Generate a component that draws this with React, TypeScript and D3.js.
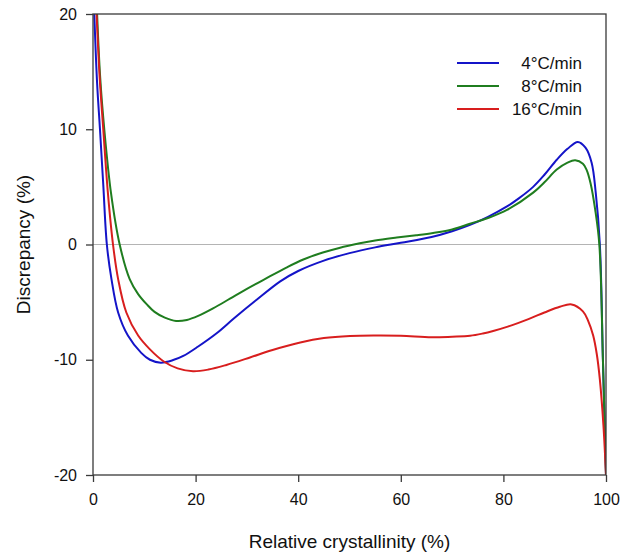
import { useEffect, useRef } from "react";
import * as d3 from "d3";

const width = 622;
const height = 555;

const margin = { top: 14, right: 16, bottom: 80, left: 93 };

// relative crystallinity (%) / discrepancy (%)
const blueX = [0.25, 0.8, 1.36, 2.0, 2.7, 3.6, 4.9, 6.8, 9.4, 11.1, 13.2, 15.5, 17.6, 20.5, 24.1, 27.5, 31.9, 36.5, 40, 45, 50, 55, 60, 66, 70, 73.5, 77, 80.7, 83, 85.8, 88, 90.4, 92.5, 94.5, 96, 97.2, 98, 98.8, 99.4, 100];
const blueY = [20, 14, 10, 5.2, 0, -3.0, -5.9, -7.9, -9.4, -10.0, -10.25, -10.05, -9.67, -8.85, -7.7, -6.4, -4.8, -3.2, -2.3, -1.4, -0.75, -0.25, 0.15, 0.65, 1.15, 1.7, 2.4, 3.3, 4.0, 5.0, 6.05, 7.35, 8.3, 8.9, 8.4, 7.1, 4.5, 0, -10, -20];

const greenX = [0.8, 1.4, 2.2, 3.5, 5.2, 7.15, 8.8, 10.5, 12.0, 14, 16.2, 18.3, 20.5, 23.4, 26.7, 30, 33.5, 37.7, 41, 44.8, 48, 52, 55, 59.2, 63, 66.3, 70, 73.5, 77, 80.7, 85.8, 88, 90.4, 92.5, 94, 95.5, 96.2, 97, 97.9, 98.7, 99.4, 100];
const greenY = [20, 14.5, 10, 4.5, 0, -3.0, -4.3, -5.2, -5.85, -6.35, -6.64, -6.55, -6.2, -5.55, -4.7, -3.85, -3.0, -2.0, -1.3, -0.7, -0.3, 0.1, 0.35, 0.6, 0.8, 1.0, 1.3, 1.8, 2.3, 3.0, 4.5, 5.4, 6.5, 7.1, 7.3, 7.0, 6.5, 5.3, 3.0, 0, -10, -20];

const redX = [0.7, 1.3, 2.0, 2.9, 3.9, 4.9, 6.5, 8.8, 11.1, 13.8, 16.5, 19.5, 22.5, 26, 30.6, 35, 40.4, 45, 50.1, 55, 60, 66, 70, 73.5, 76, 78, 81, 85, 88, 91, 93.3, 95.5, 96.5, 97.5, 98.2, 98.8, 99.5, 100];
const redY = [20, 14.5, 10, 4.5, 0, -3.0, -5.9, -7.9, -9.1, -10.15, -10.75, -11.0, -10.85, -10.45, -9.8, -9.15, -8.5, -8.12, -7.94, -7.9, -7.92, -8.05, -8.0, -7.92, -7.72, -7.5, -7.1, -6.45, -5.9, -5.4, -5.2, -5.8, -6.6, -7.9, -9.5, -11.7, -15.7, -20];

const seriesNames = ["4°C/min", "8°C/min", "16°C/min"];
const seriesColors = ["#1414c8", "#1f7d1f", "#d81e1e"];

const xTicks = [0, 20, 40, 60, 80, 100];
const yTicks = [-20, -10, 0, 10, 20];

const series = [
  { name: seriesNames[0], color: seriesColors[0], xs: blueX, ys: blueY },
  { name: seriesNames[1], color: seriesColors[1], xs: greenX, ys: greenY },
  { name: seriesNames[2], color: seriesColors[2], xs: redX, ys: redY },
];

export default function App() {
  const svgRef = useRef<SVGSVGElement | null>(null);

  useEffect(() => {
    if (!svgRef.current) return;
    const svg = d3.select(svgRef.current);
    svg.selectAll("*").remove();

    const x = d3.scaleLinear().domain([0, 100]).range([margin.left, width - margin.right]);
    const y = d3.scaleLinear().domain([-20, 20]).range([height - margin.bottom, margin.top]);

    svg
      .append("defs")
      .append("clipPath")
      .attr("id", "plot-clip")
      .append("rect")
      .attr("x", margin.left)
      .attr("y", margin.top)
      .attr("width", width - margin.left - margin.right)
      .attr("height", height - margin.top - margin.bottom);

    // zero line
    svg
      .append("line")
      .attr("x1", x(0))
      .attr("x2", x(100))
      .attr("y1", y(0))
      .attr("y2", y(0))
      .attr("stroke", "#b4b4b4")
      .attr("stroke-width", 1);

    const line = d3
      .line<[number, number]>()
      .x((d) => x(d[0]))
      .y((d) => y(d[1]))
      .curve(d3.curveCatmullRom.alpha(0.5));

    const lines = svg.append("g").attr("clip-path", "url(#plot-clip)");
    series.forEach((s) => {
      const pts = s.xs.map((v, i) => [v, s.ys[i]] as [number, number]);
      lines
        .append("path")
        .attr("d", line(pts))
        .attr("fill", "none")
        .attr("stroke", s.color)
        .attr("stroke-width", 2);
    });

    // frame
    svg
      .append("rect")
      .attr("x", x(0))
      .attr("y", y(20))
      .attr("width", x(100) - x(0))
      .attr("height", y(-20) - y(20))
      .attr("fill", "none")
      .attr("stroke", "#3a3a3a")
      .attr("stroke-width", 1.3);

    const xAxis = svg
      .append("g")
      .attr("transform", `translate(0,${y(-20)})`)
      .call(d3.axisBottom(x).tickValues(xTicks).tickSize(7).tickPadding(12).tickFormat((d) => String(d)));
    const yAxis = svg
      .append("g")
      .attr("transform", `translate(${x(0)},0)`)
      .call(d3.axisLeft(y).tickValues(yTicks).tickSize(7).tickPadding(9).tickFormat((d) => String(d)));

    [xAxis, yAxis].forEach((a) => {
      a.select(".domain").remove();
      a.selectAll("line").attr("stroke", "#3a3a3a").attr("stroke-width", 1.3);
      a.selectAll("text")
        .attr("fill", "#111")
        .style("font-family", "'Liberation Sans', Arial, sans-serif")
        .style("font-size", "16px");
    });

    // legend
    const legend = svg.append("g");
    series.forEach((s, i) => {
      const ly = 63 + i * 23;
      legend
        .append("line")
        .attr("x1", 457)
        .attr("x2", 499)
        .attr("y1", ly)
        .attr("y2", ly)
        .attr("stroke", s.color)
        .attr("stroke-width", 2);
      legend
        .append("text")
        .attr("x", 582)
        .attr("y", ly)
        .attr("dy", "0.36em")
        .attr("text-anchor", "end")
        .attr("fill", "#111")
        .style("font-family", "'Liberation Sans', Arial, sans-serif")
        .style("font-size", "17px")
        .text(s.name);
    });

    // axis titles
    svg
      .append("text")
      .attr("x", (x(0) + x(100)) / 2)
      .attr("y", 548)
      .attr("text-anchor", "middle")
      .attr("fill", "#111")
      .style("font-family", "'Liberation Sans', Arial, sans-serif")
      .style("font-size", "19px")
      .text("Relative crystallinity (%)");

    svg
      .append("text")
      .attr("transform", `translate(30,${y(0)}) rotate(-90)`)
      .attr("text-anchor", "middle")
      .attr("fill", "#111")
      .style("font-family", "'Liberation Sans', Arial, sans-serif")
      .style("font-size", "19px")
      .text("Discrepancy (%)");
  }, []);

  return (
    <svg
      ref={svgRef}
      width={width}
      height={height}
      style={{ position: "absolute", left: 0, top: 0, background: "#fff" }}
    />
  );
}
